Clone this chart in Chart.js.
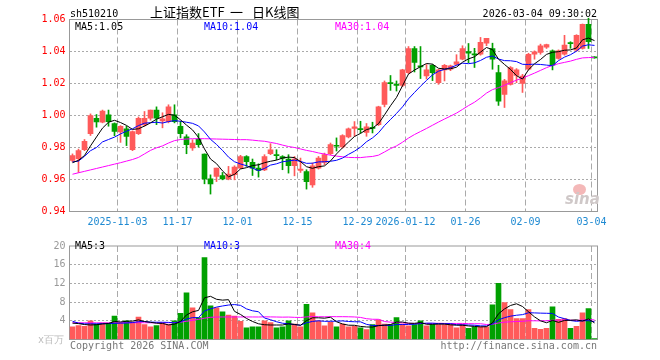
<!DOCTYPE html>
<html><head><meta charset="utf-8">
<script src="https://cdn.jsdelivr.net/npm/chart.js@4.4.1/dist/chart.umd.min.js"></script>
<style>
body{margin:0;width:660px;height:360px;background:#fff;position:relative;overflow:hidden;font-family:"DejaVu Sans Mono",monospace;}
.t{position:absolute;font-size:10px;line-height:10px;white-space:nowrap;font-family:"DejaVu Sans Mono",monospace;}
.ti{position:absolute;top:5px;font-family:'Noto Sans CJK SC';font-size:13px;line-height:13px;color:#000;white-space:pre;}
#w1{position:absolute;left:0;top:0;width:660px;height:236px;}
#w2{position:absolute;left:0;top:236px;width:660px;height:124px;}
</style></head><body>
<div id="w1"><canvas id="c1" width="660" height="236"></canvas></div>
<div id="w2"><canvas id="c2" width="660" height="124"></canvas></div>
<div class="t" style="left:70px;top:9px;color:#000;">sh510210</div>
<div class="ti" style="left:150px;">上证指数ETF</div>
<div class="ti" style="left:230px;">一</div>
<div class="ti" style="left:252px;">日K线图</div>
<div class="t" style="right:63px;top:9px;color:#000;">2026-03-04 09:30:02</div>
<div class="t" id="l1" style="left:75px;top:22px;color:#000;"></div>
<div class="t" id="l2" style="left:204px;top:22px;color:#0000ff;"></div>
<div class="t" id="l3" style="left:335px;top:22px;color:#ff00ff;"></div>
<div class="t" id="v1" style="left:75px;top:241px;color:#000;"></div>
<div class="t" id="v2" style="left:204px;top:241px;color:#0000ff;"></div>
<div class="t" id="v3" style="left:335px;top:241px;color:#ff00ff;"></div>
<div class="t" style="left:38px;top:335px;color:#bbb;">x百万</div>
<div class="t" style="left:70px;top:341px;color:#777;">Copyright 2026 SINA.COM</div>
<div class="t" style="right:63px;top:341px;color:#777;">http://finance.sina.com.cn</div>
<div style="position:absolute;left:573px;top:184px;width:13px;height:11px;border-radius:50%;background:#f4b8b8;"></div>
<div class="t" style="left:565px;top:192px;font-family:'DejaVu Sans';font-style:italic;font-weight:bold;font-size:15px;line-height:14px;color:#cfc8c8;">sina</div>
<script>
const dates = ['2025-10-22','2025-10-23','2025-10-24','2025-10-27','2025-10-28','2025-10-29','2025-10-30','2025-10-31',
'2025-11-03','2025-11-04','2025-11-05','2025-11-06','2025-11-07','2025-11-10','2025-11-11','2025-11-12','2025-11-13','2025-11-14',
'2025-11-17','2025-11-18','2025-11-19','2025-11-20','2025-11-21','2025-11-24','2025-11-25','2025-11-26','2025-11-27','2025-11-28',
'2025-12-01','2025-12-02','2025-12-03','2025-12-04','2025-12-05','2025-12-08','2025-12-09','2025-12-10','2025-12-11','2025-12-12',
'2025-12-15','2025-12-16','2025-12-17','2025-12-18','2025-12-19','2025-12-22','2025-12-23','2025-12-24','2025-12-25','2025-12-26',
'2025-12-29','2025-12-30','2025-12-31','2026-01-05','2026-01-06','2026-01-07','2026-01-08','2026-01-09',
'2026-01-12','2026-01-13','2026-01-14','2026-01-15','2026-01-16','2026-01-19','2026-01-20','2026-01-21','2026-01-22','2026-01-23',
'2026-01-26','2026-01-27','2026-01-28','2026-01-29','2026-01-30','2026-02-02','2026-02-03','2026-02-04','2026-02-05','2026-02-06',
'2026-02-09','2026-02-10','2026-02-11','2026-02-12','2026-02-13','2026-02-24','2026-02-25','2026-02-26','2026-02-27',
'2026-03-02','2026-03-03','2026-03-04'];
const tickDates = ['2025-11-03','2025-11-17','2025-12-01','2025-12-15','2025-12-29','2026-01-12','2026-01-26','2026-02-09','2026-03-04'];
const tickTexts = ['2025-11-03','11-17','12-01','12-15','12-29','2026-01-12','01-26','02-09','03-04'];
const opens = [0.972,0.973,0.9786,0.9887,0.9983,0.9958,1.0004,0.995,0.9897,0.9916,
0.9786,0.9887,0.9941,0.9983,1.0034,0.9966,0.9962,1.0004,0.9933,0.9866,
0.9797,0.9853,0.9759,0.9604,0.9619,0.9625,0.9604,0.963,0.9671,0.9744,
0.9707,0.9671,0.966,0.9761,0.9755,0.9744,0.9728,0.9686,0.9657,0.965,
0.9566,0.9671,0.9707,0.9761,0.9814,0.9803,0.9866,0.992,0.9916,0.9895,
0.9925,0.9943,1.0069,1.0205,1.0195,1.0188,1.0268,1.0419,1.031,1.0247,
1.0314,1.0205,1.0285,1.0289,1.032,1.0352,1.040,1.0385,1.0383,1.0452,
1.0419,1.0268,1.0132,1.0195,1.0251,1.0201,1.0289,1.0383,1.0394,1.0427,
1.0404,1.0356,1.0383,1.0455,1.0409,1.0419,1.057,1.0365];
const highs = [0.976,0.979,0.985,1.001,1.0006,1.0034,1.0034,0.9954,0.9937,0.9933,
0.9904,0.9991,1.0025,1.0034,1.0054,1.0017,1.0067,1.0067,0.9964,0.988,
0.9849,0.9887,0.976,0.9629,0.9671,0.9644,0.9682,0.9686,0.9751,0.9749,
0.9728,0.9698,0.9755,0.9824,0.9786,0.9749,0.9755,0.9744,0.9734,0.9661,
0.9703,0.9744,0.9765,0.9828,0.986,0.988,0.9922,0.9962,0.9964,0.995,
0.9958,1.0058,1.0216,1.025,1.0216,1.0289,1.0431,1.0431,1.0431,1.0319,
1.0319,1.0289,1.0319,1.0315,1.038,1.0436,1.045,1.042,1.0488,1.0482,
1.0452,1.0314,1.0226,1.0306,1.0293,1.0257,1.0389,1.0404,1.0446,1.0446,
1.041,1.041,1.0501,1.0461,1.0505,1.0572,1.0608,1.0368];
const lows = [0.971,0.9644,0.978,0.9875,0.9927,0.9954,0.9933,0.9874,0.9832,0.9812,
0.978,0.9881,0.9933,0.9971,0.9943,0.9923,0.9954,0.9954,0.986,0.9761,
0.9782,0.9803,0.9573,0.9509,0.9587,0.9598,0.9598,0.9598,0.9667,0.9682,
0.9625,0.9615,0.9655,0.9755,0.9724,0.9661,0.964,0.9623,0.9644,0.954,
0.9551,0.9665,0.9692,0.9755,0.9778,0.9797,0.986,0.987,0.989,0.987,
0.9891,0.9937,1.0054,1.0157,1.0153,1.018,1.0262,1.0272,1.0231,1.0228,
1.0218,1.0195,1.0216,1.028,1.0314,1.0348,1.033,1.030,1.0377,1.0436,
1.0289,1.0063,1.005,1.019,1.0205,1.0144,1.0285,1.0352,1.0383,1.0419,
1.0285,1.0352,1.0377,1.042,1.0402,1.0415,1.0419,1.0358];
const closes = [0.975,0.978,0.9839,1.000,0.996,1.0027,0.9962,0.990,0.9933,0.987,
0.990,0.9983,0.9983,1.0034,0.9983,0.9979,1.0054,0.9962,0.9887,0.9818,
0.9828,0.9818,0.9604,0.9572,0.9671,0.9604,0.9634,0.9677,0.9744,0.9711,
0.9671,0.9657,0.9744,0.9786,0.9749,0.9734,0.9686,0.9728,0.9665,0.9587,
0.9686,0.9734,0.9755,0.9818,0.9808,0.9874,0.9916,0.9929,0.9912,0.9929,
0.992,1.0054,1.0205,1.0199,1.0188,1.0285,1.0419,1.0331,1.0304,1.0285,
1.0268,1.0285,1.0314,1.031,1.0335,1.0419,1.039,1.0379,1.0457,1.0482,
1.0352,1.009,1.0216,1.030,1.0285,1.0247,1.0383,1.0398,1.0436,1.0444,
1.0314,1.0404,1.044,1.0449,1.0501,1.057,1.0461,1.036];
const ma5 = [0.9705,0.972,0.975,0.981,0.9866,0.9921,0.9958,0.997,0.9956,0.9938,
0.9913,0.9917,0.9934,0.9954,0.9977,0.9992,1.0007,1.0002,0.9973,0.994,
0.991,0.9863,0.9791,0.9728,0.9699,0.9654,0.9617,0.9632,0.9666,0.9674,
0.9687,0.9692,0.9705,0.9714,0.9721,0.9734,0.974,0.9737,0.9712,0.968,
0.967,0.968,0.9685,0.9716,0.976,0.9798,0.9834,0.9869,0.9888,0.9912,
0.9921,0.9949,1.0004,1.0061,1.0113,1.0186,1.0259,1.0284,1.0305,1.0325,
1.0321,1.0295,1.0291,1.0292,1.0302,1.0333,1.0354,1.0367,1.0396,1.0425,
1.0412,1.0352,1.0319,1.0288,1.0249,1.0228,1.0286,1.0323,1.035,1.0382,
1.0395,1.0399,1.0408,1.041,1.0422,1.0473,1.0484,1.0468];
const ma10 = [0.971,0.9715,0.9745,0.978,0.98,0.9835,0.985,0.9865,0.9885,0.9902,
0.9917,0.9937,0.9952,0.9955,0.9958,0.9953,0.9962,0.9968,0.9964,0.9958,
0.9951,0.9935,0.9897,0.9851,0.9819,0.9782,0.974,0.9711,0.9697,0.9686,
0.9671,0.9655,0.9669,0.969,0.9698,0.9711,0.9716,0.9721,0.9713,0.9701,
0.9702,0.971,0.9711,0.9714,0.972,0.9734,0.9757,0.9777,0.9802,0.9836,
0.986,0.9892,0.9937,0.9975,1.0013,1.0054,1.0104,1.0144,1.0183,1.0219,
1.0254,1.0277,1.0288,1.0299,1.0314,1.0327,1.0324,1.0329,1.0344,1.0364,
1.0372,1.0353,1.0343,1.0342,1.0337,1.032,1.0319,1.0321,1.0319,1.0315,
1.0311,1.0343,1.0365,1.038,1.0402,1.0434,1.0442,1.0438];
const ma30 = [0.9633,0.9642,0.9651,0.966,0.9669,0.9678,0.9687,0.9696,0.9705,0.9715,
0.9725,0.9738,0.976,0.9782,0.9798,0.981,0.9828,0.9843,0.985,0.9853,
0.9855,0.9855,0.9855,0.9854,0.9853,0.9852,0.9851,0.985,0.9849,0.9849,
0.9846,0.9842,0.9839,0.9832,0.9825,0.9815,0.9806,0.98,0.9791,0.9782,
0.9775,0.9766,0.9759,0.9752,0.9746,0.9742,0.9738,0.9737,0.9737,0.9741,
0.9744,0.9752,0.9772,0.9793,0.981,0.9833,0.9859,0.9881,0.99,0.9919,
0.9939,0.9959,0.9978,0.9996,1.0015,1.0038,1.0062,1.0083,1.011,1.014,
1.0162,1.0174,1.0189,1.0205,1.0221,1.0234,1.0249,1.0265,1.0282,1.0299,
1.0313,1.0324,1.0332,1.034,1.0351,1.036,1.0362,1.0363];
const volumes = [2.7,3.0,2.8,4.0,3.3,3.5,3.5,5.0,3.5,4.0,
3.7,4.8,3.2,2.7,3.0,3.5,3.2,4.0,5.6,10.0,
6.8,4.7,17.5,7.2,6.8,5.9,5.2,5.0,3.9,2.5,
2.7,2.7,4.0,3.6,2.5,2.7,4.0,3.3,2.7,7.5,
5.7,4.0,2.9,3.7,2.7,3.3,2.7,2.8,2.5,2.1,
3.2,4.2,3.3,3.2,4.7,3.3,2.9,3.2,4.0,2.9,
3.2,3.2,3.2,3.2,2.5,3.2,2.4,2.7,2.7,2.7,
7.4,12.0,7.9,6.4,4.5,4.5,6.4,2.4,2.2,2.4,
7.0,4.3,4.5,2.4,2.8,5.7,6.6,0.2];
const vma5 = [3.5,3.4,3.2,3.1,3.16,3.32,3.42,3.86,3.76,3.9,
3.94,4.2,3.84,3.68,3.48,3.44,3.12,3.28,3.86,5.26,
5.92,6.22,8.92,9.24,8.6,8.42,8.52,6.02,5.36,4.5,
3.86,3.36,3.16,3.1,3.1,3.1,3.36,3.22,3.04,4.04,
4.64,4.64,4.56,4.76,3.8,3.32,3.06,3.04,2.8,2.68,
2.66,2.96,3.06,3.2,3.72,3.74,3.48,3.46,3.62,3.26,
3.24,3.3,3.3,3.14,3.06,3.06,2.9,2.8,2.7,2.74,
3.58,5.5,6.54,7.28,7.64,7.06,5.94,4.84,4.0,3.58,
4.08,3.66,4.08,4.12,4.2,3.94,4.4,3.54];
const vma10 = [3.9,3.5,3.35,3.35,3.35,3.4,3.4,3.45,3.5,3.53,
3.63,3.81,3.85,3.72,3.69,3.69,3.66,3.56,3.77,4.37,
4.68,4.67,6.1,6.55,6.93,7.17,7.37,7.47,7.3,6.55,
6.14,5.94,4.59,4.23,3.8,3.48,3.36,3.19,3.07,3.57,
3.87,4.0,3.89,3.9,3.92,3.98,3.85,3.8,3.78,3.24,
2.99,3.01,3.05,3.0,3.2,3.2,3.22,3.26,3.41,3.49,
3.49,3.39,3.38,3.38,3.16,3.15,3.1,3.05,2.92,2.9,
3.32,4.2,4.67,4.99,5.19,5.32,5.72,5.69,5.64,5.61,
5.57,4.8,4.46,4.06,3.89,4.01,4.03,3.81];
const vma30 = [3.58,3.58,3.57,3.57,3.56,3.56,3.56,3.57,3.57,3.58,
3.58,3.59,3.58,3.57,3.57,3.57,3.58,3.62,3.7,3.9,
4.1,4.3,4.55,4.75,4.8,4.82,4.82,4.82,4.82,4.82,
4.82,4.81,4.85,4.83,4.81,4.78,4.8,4.74,4.71,4.83,
4.9,4.87,4.86,4.89,4.88,4.88,4.86,4.82,4.72,4.45,
4.33,4.32,3.84,3.71,3.64,3.55,3.48,3.42,3.42,3.43,
3.45,3.47,3.44,3.43,3.43,3.44,3.39,3.37,3.37,3.21,
3.27,3.53,3.7,3.79,3.85,3.89,4.01,4.0,3.99,4.0,
4.13,4.13,4.17,4.14,4.08,4.16,4.28,4.18];
const priceLegend = ['MA5:1.05','MA10:1.04','MA30:1.04'];
const volumeLegend = ['MA5:3','MA10:3','MA30:4'];

['l1','l2','l3'].forEach((id,k)=>document.getElementById(id).textContent=priceLegend[k]);
['v1','v2','v3'].forEach((id,k)=>document.getElementById(id).textContent=volumeLegend[k]);

const RED='#ff5a5a', GREEN='#00a000';
const colors = closes.map((c,i)=> c>=opens[i] ? RED : GREEN);
const tickText = {};
tickDates.forEach((d,k)=>{ tickText[dates.indexOf(d)] = tickTexts[k]; });
const font = {family:'DejaVu Sans Mono', size:10};
const gridX = ctx => (tickText[ctx.index]!==undefined) ? '#aaaaaa' : 'rgba(0,0,0,0)';
const frame = {id:'frame', beforeDatasetsDraw(c){const a=c.chartArea,x=c.ctx;x.save();x.strokeStyle='#999';x.lineWidth=1;x.strokeRect(a.left,a.top,a.right-a.left,a.bottom-a.top);x.restore();}};
const lineDs = (d,c)=>({type:'line',data:d,borderColor:c,borderWidth:1,pointRadius:0,tension:0,order:0});

new Chart(document.getElementById('c1'),{
  type:'bar',
  data:{labels:dates,datasets:[
    lineDs(ma5,'#000000'),lineDs(ma10,'#0000ff'),lineDs(ma30,'#ff00ff'),
    {type:'bar',data:dates.map((d,i)=>[opens[i],closes[i]]),backgroundColor:colors,barThickness:5,grouped:false,minBarLength:1,order:1},
    {type:'bar',data:dates.map((d,i)=>[lows[i],highs[i]]),backgroundColor:colors,barThickness:1,grouped:false,order:2,clip:false}
  ]},
  options:{responsive:false,animation:false,events:[],
    layout:{padding:{left:0,right:62.5,top:19.5,bottom:0}},
    plugins:{legend:{display:false},tooltip:{enabled:false}},
    scales:{
      x:{offset:true,grid:{offset:true,drawTicks:false,color:gridX},border:{display:false,dash:[6,3]},
         ticks:{autoSkip:false,maxRotation:0,minRotation:0,padding:5,labelOffset:-3,color:'#1f8ad2',font,callback:(v,i)=>tickText[i]||''},
         afterFit:s=>{s.height=24.5;}},
      y:{min:0.94,max:1.06,grid:{drawTicks:false,color:ctx=>(ctx.tick&&ctx.tick.value>0.941&&ctx.tick.value<1.059)?'#aaaaaa':'rgba(0,0,0,0)'},
         border:{display:false,dash:[2,2]},
         ticks:{stepSize:0.02,padding:4,color:'#ff0000',font,callback:v=>v.toFixed(2)},
         afterFit:s=>{s.width=69.5;}}
    }},
  plugins:[frame]
});

new Chart(document.getElementById('c2'),{
  type:'bar',
  data:{labels:dates,datasets:[
    lineDs(vma5,'#000000'),lineDs(vma10,'#0000ff'),lineDs(vma30,'#ff00ff'),
    {type:'bar',data:volumes,backgroundColor:colors,barThickness:5,order:1}
  ]},
  options:{responsive:false,animation:false,events:[],
    layout:{padding:{left:0,right:62.5,top:3.5,bottom:20.5}},
    plugins:{legend:{display:false},tooltip:{enabled:false}},
    scales:{
      x:{offset:true,grid:{offset:true,drawTicks:false,color:gridX},border:{display:false,dash:[6,3]},
         ticks:{display:false,autoSkip:false},afterFit:s=>{s.height=0;}},
      y:{min:0,max:20,grid:{drawTicks:false,color:ctx=>(ctx.tick&&ctx.tick.value>0&&ctx.tick.value<20)?'#aaaaaa':'rgba(0,0,0,0)'},
         border:{display:false,dash:[2,2]},
         ticks:{stepSize:4,padding:4,color:'#999999',font,callback:v=>v===0?'':String(v)},
         afterFit:s=>{s.width=69.5;}}
    }},
  plugins:[frame]
});
</script>
</body></html>
